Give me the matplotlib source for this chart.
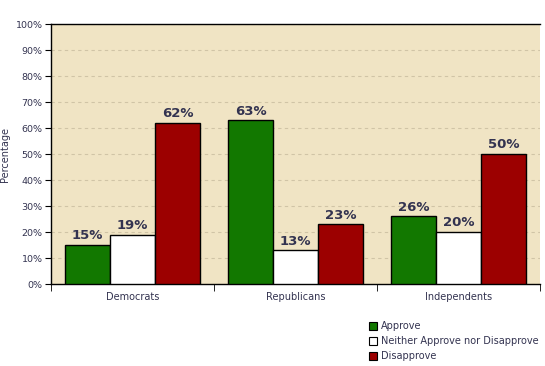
import matplotlib
matplotlib.use("Agg")
import matplotlib.pyplot as plt
import numpy as np
from matplotlib.patches import Rectangle

categories = ["Democrats", "Republicans", "Independents"]
series_names = ["Approve", "Neither Approve nor Disapprove", "Disapprove"]
approve = [15, 63, 26]
neither = [19, 13, 20]
disapprove = [62, 23, 50]

COLORS = ["#127800", "#FFFFFF", "#9C0000"]
TEXT = "#333350"
BG = "#F0E4C4"

fig = plt.figure(figsize=(5.45, 3.66), dpi=100)
ax = fig.add_axes([51 / 545, 82 / 366, 489 / 545, 260 / 366])
ax.set_facecolor(BG)

x = np.arange(len(categories))
w = 45 / 163
for i, vals in enumerate([approve, neither, disapprove]):
    pos = x + (i - 1) * w
    ax.bar(pos, vals, width=w, color=COLORS[i], edgecolor="black",
           linewidth=1.0, zorder=3)
    for p, v in zip(pos, vals):
        ax.text(p, v + 1.0, f"{v}%", ha="center", va="bottom",
                fontsize=9.5, fontweight="bold", color=TEXT, zorder=4)

ax.set_xlim(-0.5, 2.5)
ax.set_ylim(0, 100)
ax.set_yticks(range(0, 101, 10))
ax.set_yticklabels([f"{t}%" for t in range(0, 101, 10)], fontsize=6.8,
                   color=TEXT)
ax.yaxis.grid(True, linestyle=(0, (3, 3)), color="#D0C4A6", linewidth=0.8,
              zorder=1)
ax.set_xticks(x)
ax.set_xticklabels(categories, fontsize=7, color=TEXT)
ax.tick_params(axis="x", which="major", length=0, pad=6)
ax.set_xticks([-0.5, 0.5, 1.5, 2.5], minor=True)
ax.tick_params(axis="x", which="minor", length=5, color="black")
ax.tick_params(axis="y", length=4, color="black", pad=2)
ax.set_ylabel("Percentage", fontsize=7, color=TEXT, labelpad=4)
ax.spines["right"].set_visible(False)
for s in ["left", "top", "bottom"]:
    ax.spines[s].set_color("black")
    ax.spines[s].set_linewidth(1.0)

# legend
for i, name in enumerate(series_names):
    y = 1 - (321 + i * 15 + 9) / 366
    fig.patches.append(Rectangle((369 / 545, y), 8 / 545, 8 / 366,
                                 transform=fig.transFigure, facecolor=COLORS[i],
                                 edgecolor="black", linewidth=0.8))
    fig.text(381 / 545, y + 4 / 366, name, fontsize=7, color=TEXT,
             va="center", ha="left")

fig.savefig("out.png", dpi=100, facecolor="white")
